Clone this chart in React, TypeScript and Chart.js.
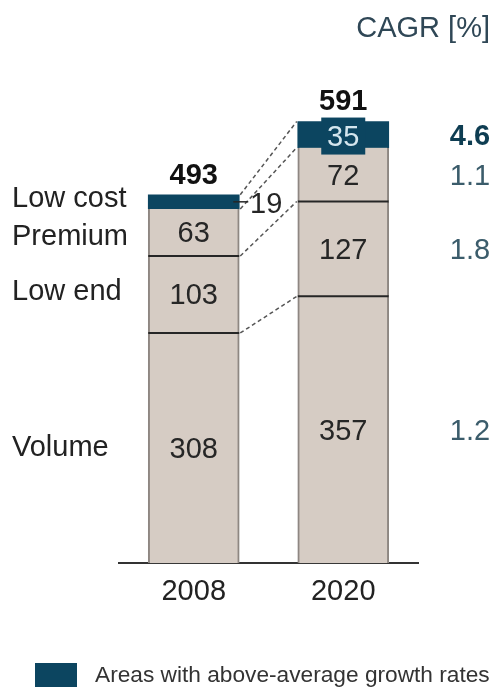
import React, { useEffect, useRef } from 'react';
import { Chart, registerables } from 'chart.js';

Chart.register(...registerables);

const categories = ['2008', '2020'];
const volume = [308, 357];
const lowEnd = [103, 127];
const premium = [63, 72];
const lowCost = [19, 35];
const totals = [493, 591];
const segmentNames = ['Volume', 'Low end', 'Premium', 'Low cost'];
const cagrValues = ['1.2', '1.8', '1.1', '4.6'];
const cagrTitle = 'CAGR [%]';
const legendText = 'Areas with above-average growth rates';

const FONT = '"Liberation Sans", Arial, Helvetica, sans-serif';
const FS = 29;
const BEIGE = '#d6ccc4';
const TEAL = '#0c4560';
const SIDE = '#8e8782';
const DARK = '#262626';

// layout tweaks for row label baselines (px, relative to segment centre + 10)
const rowLabelOffsets = [-2, -4, 3, -5];

const overlay = {
  id: 'overlay',
  afterDatasetsDraw(chart: any) {
    const ctx = chart.ctx as CanvasRenderingContext2D;
    const metas = [0, 1, 2, 3].map((i) => chart.getDatasetMeta(i));
    const el = (d: number, i: number) => metas[d].data[i].getProps(['x', 'y', 'width', 'base'], true);

    ctx.save();
    // dividers between beige segments
    ctx.strokeStyle = DARK;
    ctx.lineWidth = 2;
    for (let d = 0; d < 2; d++) {
      for (let i = 0; i < 2; i++) {
        const e = el(d, i);
        ctx.beginPath();
        ctx.moveTo(e.x - e.width / 2, e.y);
        ctx.lineTo(e.x + e.width / 2, e.y);
        ctx.stroke();
      }
    }
    // dashed connectors
    ctx.strokeStyle = '#555';
    ctx.lineWidth = 1.5;
    ctx.setLineDash([4, 3]);
    for (let d = 0; d < 4; d++) {
      const a = el(d, 0);
      const b = el(d, 1);
      ctx.beginPath();
      ctx.moveTo(a.x + a.width / 2 + 1, a.y);
      ctx.lineTo(b.x - b.width / 2 - 1, b.y);
      ctx.stroke();
    }
    ctx.setLineDash([]);

    // segment value labels
    ctx.font = `${FS}px ${FONT}`;
    ctx.textAlign = 'center';
    ctx.textBaseline = 'alphabetic';
    ctx.fillStyle = DARK;
    const sets = [volume, lowEnd, premium];
    for (let d = 0; d < 3; d++) {
      for (let i = 0; i < 2; i++) {
        const e = el(d, i);
        ctx.fillText(String(sets[d][i]), e.x, (e.y + e.base) / 2 + 10);
      }
    }
    // low cost 2008: label to the right with tick
    {
      const e = el(3, 0);
      const cy = (e.y + e.base) / 2;
      ctx.strokeStyle = DARK;
      ctx.lineWidth = 1.5;
      ctx.beginPath();
      ctx.moveTo(e.x + e.width / 2 - 6, cy);
      ctx.lineTo(e.x + e.width / 2 + 9, cy);
      ctx.stroke();
      ctx.fillStyle = DARK;
      ctx.fillText(String(lowCost[0]), e.x + e.width / 2 + 27, cy + 11);
    }
    // low cost 2020: label in box
    {
      const e = el(3, 1);
      const cy = (e.y + e.base) / 2 + 1;
      ctx.fillStyle = TEAL;
      ctx.fillRect(e.x - 22, cy - 18, 44, 37);
      ctx.fillStyle = '#d4e6ee';
      ctx.fillText(String(lowCost[1]), e.x, cy + 10);
    }

    // totals
    ctx.font = `bold ${FS}px ${FONT}`;
    ctx.fillStyle = '#111';
    for (let i = 0; i < 2; i++) {
      const e = el(3, i);
      ctx.fillText(String(totals[i]), e.x, e.y - 11);
    }

    // row labels (left)
    ctx.font = `${FS}px ${FONT}`;
    ctx.textAlign = 'left';
    ctx.fillStyle = '#222';
    for (let d = 0; d < 4; d++) {
      const e = el(d, 0);
      ctx.fillText(segmentNames[d], 12, (e.y + e.base) / 2 + 10 + rowLabelOffsets[d]);
    }

    // CAGR column
    ctx.textAlign = 'right';
    ctx.fillStyle = '#2f4756';
    ctx.fillText(cagrTitle, 490, 37);
    ctx.textAlign = 'center';
    for (let d = 0; d < 4; d++) {
      const e = el(d, 1);
      const y = (e.y + e.base) / 2 + 10;
      if (d === 3) {
        ctx.font = `bold ${FS}px ${FONT}`;
        ctx.fillStyle = '#0e3d52';
      } else {
        ctx.font = `${FS}px ${FONT}`;
        ctx.fillStyle = '#3b5c6b';
      }
      ctx.fillText(cagrValues[d], 470, y);
    }

    // legend
    ctx.fillStyle = TEAL;
    ctx.fillRect(35, 663, 42, 24);
    ctx.font = `22.7px ${FONT}`;
    ctx.textAlign = 'left';
    ctx.fillStyle = '#333';
    ctx.fillText(legendText, 95, 682);
    ctx.restore();
  },
};

export default function App() {
  const ref = useRef<HTMLCanvasElement>(null);
  useEffect(() => {
    if (!ref.current) return;
    const side = { left: 2, right: 2, top: 0, bottom: 0 };
    const chart = new Chart(ref.current, {
      type: 'bar',
      data: {
        labels: categories,
        datasets: [
          { label: segmentNames[0], data: volume, backgroundColor: BEIGE, borderColor: SIDE, borderWidth: side, borderSkipped: false },
          { label: segmentNames[1], data: lowEnd, backgroundColor: BEIGE, borderColor: SIDE, borderWidth: side, borderSkipped: false },
          { label: segmentNames[2], data: premium, backgroundColor: BEIGE, borderColor: SIDE, borderWidth: side, borderSkipped: false },
          { label: segmentNames[3], data: lowCost, backgroundColor: TEAL, borderWidth: 0 },
        ],
      },
      options: {
        responsive: false,
        animation: false,
        datasets: { bar: { barThickness: 91 } },
        layout: { padding: { left: 119, right: 77, top: 40, bottom: 67 } },
        plugins: { legend: { display: false }, tooltip: { enabled: false } },
        scales: {
          x: {
            stacked: true,
            grid: { display: false, drawTicks: false },
            border: { color: '#333', width: 2 },
            ticks: { font: { family: FONT, size: FS }, color: '#222', padding: 11 },
          },
          y: { stacked: true, display: false, min: 0, max: 700 },
        },
      },
      plugins: [overlay],
    } as any);
    return () => chart.destroy();
  }, []);
  return (
    <div style={{ position: 'absolute', left: 0, top: 0, width: 495, height: 687, background: '#fff' }}>
      <canvas ref={ref} width={495} height={687} style={{ width: 495, height: 687 }} />
    </div>
  );
}
